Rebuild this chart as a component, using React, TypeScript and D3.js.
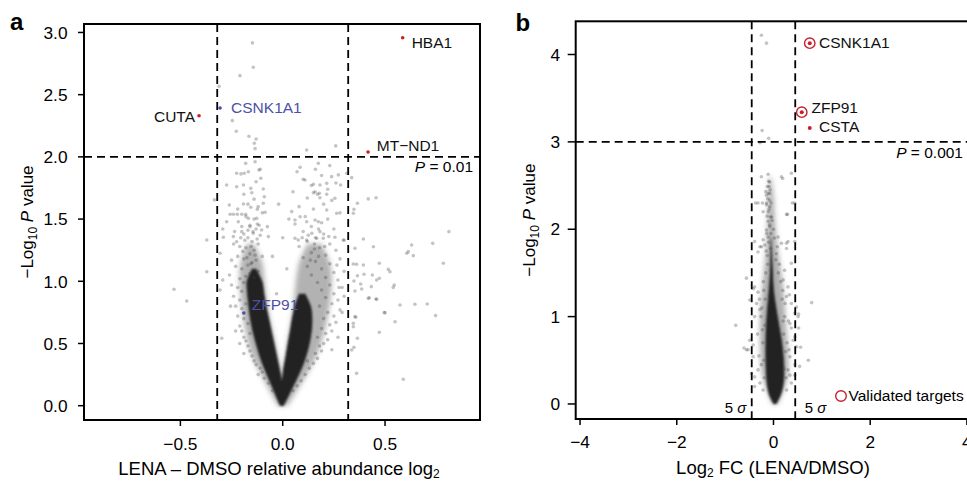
import React from "react";
import * as d3 from "d3";

const FONT = "'Liberation Sans', Arial, Helvetica, sans-serif";

// ---------------- Panel a data ----------------
const aXTicks = [-0.5, 0, 0.5];
const aYTicks = [0, 0.5, 1, 1.5, 2, 2.5, 3];
const aXDomain = [-0.971, 0.964];
const aYDomain = [-0.115, 3.068];
const aFoldCut = [-0.32, 0.32];
const aPCut = 2;
const aPText = "0.01";

// saturated (overlapping) core of the point cloud, per -log10 P level
const aCoreLY = [0, 0.1, 0.2, 0.3, 0.4, 0.5, 0.6, 0.7, 0.8, 0.9, 1.0, 1.1];
const aCoreLOut = [-0.014, -0.04, -0.066, -0.092, -0.114, -0.132, -0.148, -0.16, -0.168, -0.174, -0.176, -0.15];
const aCoreLIn = [0.002, 0.0, -0.004, -0.015, -0.028, -0.041, -0.054, -0.067, -0.08, -0.09, -0.1, -0.13];
const aCoreRY = [0, 0.1, 0.2, 0.3, 0.4, 0.5, 0.6, 0.7, 0.8, 0.9];
const aCoreRIn = [-0.01, -0.008, -0.004, 0.003, 0.014, 0.024, 0.035, 0.045, 0.058, 0.08];
const aCoreROut = [0.006, 0.036, 0.066, 0.094, 0.116, 0.132, 0.142, 0.145, 0.138, 0.11];
// lighter dense halo
const aHaloY = [0, 0.2, 0.4, 0.6, 0.8, 1.0, 1.15, 1.3];
const aHaloLOut = [-0.025, -0.09, -0.15, -0.182, -0.2, -0.212, -0.205, -0.175];
const aHaloLIn = [0.0, -0.004, -0.024, -0.05, -0.074, -0.088, -0.1, -0.14];
const aHaloRIn = [0.0, 0.0, 0.012, 0.033, 0.052, 0.064, 0.08, 0.12];
const aHaloROut = [0.025, 0.1, 0.165, 0.205, 0.228, 0.24, 0.23, 0.19];

// individual proteins (log2 ratio, -log10 P)
const aPoints: [number, number][] = [
  [0.337, 1.833], [0.365, 1.627], [0.348, 1.579], [0.418, 1.662], [0.456, 1.672], [0.812, 1.399], [0.394, 1.34],
  [0.353, 1.265], [0.443, 1.278], [0.63, 1.292], [0.733, 1.305], [0.614, 1.238], [0.638, 1.206], [0.785, 1.145],
  [0.472, 1.145], [0.345, 1.139], [0.361, 1.137], [0.394, 1.131], [0.516, 1.096], [0.524, 1.077], [0.397, 1.056],
  [0.438, 1.051], [0.365, 1.045], [0.472, 1.024], [0.348, 1.002], [0.381, 0.978], [0.54, 0.951], [0.433, 0.957],
  [0.386, 0.938], [0.353, 0.922], [0.423, 0.868], [0.456, 0.858], [0.573, 0.809], [0.646, 0.815], [0.706, 0.817],
  [0.496, 0.748], [0.747, 0.724], [0.357, 0.711], [0.345, 0.662], [0.549, 0.675], [0.472, 0.59], [0.365, 0.542],
  [0.348, 0.469], [0.589, 0.212], [0.606, 1.225], [0.459, 1.01], [0.418, 0.863], [0.459, 0.855], [0.545, 0.97],
  [0.353, 0.716], [0.345, 0.635], [0.337, 0.448], [0.361, 0.26], [0.5, 0.748],
  [-0.148, 2.916], [-0.144, 2.72], [-0.209, 2.653], [-0.311, 2.567], [-0.246, 2.291], [-0.227, 2.206],
  [-0.165, 2.166], [-0.13, 2.144], [-0.139, 2.109], [-0.135, 2.066], [0.117, 2.055], [0.259, 2.088],
  [-0.181, 1.948], [-0.135, 1.961], [-0.116, 1.895], [-0.225, 1.868], [-0.204, 1.863], [-0.188, 1.868],
  [-0.168, 1.881], [-0.107, 1.828], [-0.274, 1.774], [-0.225, 1.76], [-0.192, 1.774], [-0.156, 1.747],
  [-0.151, 1.712], [-0.095, 1.742], [-0.334, 1.654], [-0.261, 1.613], [-0.192, 1.621], [-0.156, 1.595],
  [-0.095, 1.627], [-0.124, 1.579], [-0.086, 1.555], [-0.257, 1.539], [-0.241, 1.539], [-0.222, 1.539],
  [-0.2, 1.539], [-0.181, 1.539], [-0.168, 1.506], [-0.127, 1.506], [-0.274, 1.479], [-0.293, 1.42],
  [-0.217, 1.479], [-0.2, 1.399], [-0.16, 1.439], [-0.144, 1.386], [-0.124, 1.461], [-0.103, 1.412],
  [-0.075, 1.439], [-0.07, 1.359], [-0.29, 1.354], [-0.241, 1.359], [-0.225, 1.318], [-0.371, 1.332],
  [-0.306, 1.225], [-0.371, 1.077], [-0.293, 1.01],
  [0.085, 1.916], [0.174, 1.948], [0.239, 1.841], [0.272, 1.855], [0.313, 1.868], [0.109, 1.814], [0.15, 1.78],
  [0.182, 1.774], [0.215, 1.787], [0.283, 1.774], [0.158, 1.72], [0.179, 1.707], [0.215, 1.699], [0.255, 1.667],
  [0.182, 1.672], [0.15, 1.712], [0.044, 1.56], [0.06, 1.493], [0.085, 1.519], [0.117, 1.479], [0.158, 1.493],
  [0.174, 1.479], [0.215, 1.573], [0.264, 1.547], [0.06, 1.346], [0.076, 1.332], [0.117, 1.332], [0.142, 1.386],
  [0.166, 1.346], [0.182, 1.399], [0.198, 1.346], [0.255, 1.354], [0.296, 1.332], [0.345, 1.547],
  [-0.531, 0.936], [-0.469, 0.842], [-0.298, 0.542], [-0.306, 0.93],
  [-0.05, 0.12], [-0.07, 0.18], [-0.09, 0.22], [-0.1, 0.27], [-0.11, 0.3], [-0.12, 0.25], [-0.13, 0.33],
  [-0.14, 0.36], [-0.15, 0.4], [-0.16, 0.44], [-0.17, 0.48], [-0.18, 0.52], [-0.19, 0.55], [-0.16, 0.58],
  [-0.2, 0.6], [-0.21, 0.64], [-0.17, 0.66], [-0.19, 0.7], [-0.22, 0.72], [-0.2, 0.78], [-0.23, 0.8],
  [-0.18, 0.82], [-0.21, 0.85], [-0.24, 0.88], [-0.2, 0.92], [-0.22, 0.95], [-0.25, 0.97], [-0.19, 0.99],
  [-0.21, 1.02], [-0.18, 1.04], [-0.16, 1.06], [-0.14, 1.03], [-0.12, 1.08], [-0.2, 1.1], [-0.23, 1.12],
  [-0.17, 1.13], [-0.15, 1.15], [-0.13, 1.17], [-0.19, 1.18], [-0.22, 1.2], [-0.1, 1.2], [-0.16, 1.22],
  [-0.14, 1.25], [-0.18, 1.27], [-0.21, 1.28], [-0.12, 1.3], [-0.15, 1.32], [-0.17, 1.35], [-0.24, 1.3],
  [-0.11, 1.37], [-0.19, 1.38], [-0.13, 1.42], [-0.16, 1.45], [-0.2, 1.44], [-0.14, 1.5], [-0.18, 1.52],
  [-0.1, 1.55], [-0.12, 1.6], [-0.17, 1.62], [-0.22, 1.58], [-0.14, 1.66], [-0.09, 1.68], [-0.19, 1.7],
  [-0.13, 1.8], [-0.11, 1.9],
  [-0.155, 1.14], [-0.175, 1.19], [-0.135, 1.21], [-0.195, 1.24], [-0.155, 1.28], [-0.125, 1.34],
  [-0.185, 1.33], [-0.145, 1.4], [-0.17, 1.41], [-0.205, 1.35], [-0.115, 1.45], [-0.235, 1.4],
  [-0.25, 1.17], [-0.26, 1.05], [-0.255, 0.8], [-0.23, 0.6], [-0.21, 0.5], [-0.19, 0.42],
  [0.05, 0.12], [0.07, 0.16], [0.09, 0.2], [0.11, 0.25], [0.13, 0.3], [0.15, 0.34], [0.12, 0.36], [0.17, 0.38],
  [0.16, 0.42], [0.19, 0.44], [0.18, 0.48], [0.2, 0.5], [0.22, 0.53], [0.17, 0.55], [0.21, 0.58], [0.24, 0.6],
  [0.19, 0.62], [0.23, 0.65], [0.26, 0.67], [0.2, 0.7], [0.25, 0.72], [0.22, 0.75], [0.28, 0.77], [0.18, 0.8],
  [0.24, 0.82], [0.27, 0.85], [0.21, 0.87], [0.3, 0.88], [0.25, 0.9], [0.19, 0.93], [0.29, 0.95], [0.23, 0.97],
  [0.17, 0.99], [0.27, 1.01], [0.21, 1.03], [0.14, 1.05], [0.25, 1.07], [0.3, 1.08], [0.19, 1.1], [0.12, 1.12],
  [0.23, 1.14], [0.16, 1.16], [0.28, 1.18], [0.1, 1.19], [0.21, 1.21], [0.14, 1.23], [0.26, 1.25], [0.18, 1.27],
  [0.08, 1.28], [0.23, 1.3], [0.12, 1.32], [0.3, 1.33], [0.16, 1.35], [0.2, 1.38], [0.1, 1.4], [0.25, 1.42],
  [0.14, 1.44], [0.19, 1.47], [0.06, 1.46], [0.22, 1.5], [0.11, 1.52], [0.28, 1.55], [0.15, 1.58], [0.08, 1.6],
  [0.2, 1.62], [0.24, 1.65], [0.12, 1.67], [0.17, 1.7], [0.05, 1.72], [0.22, 1.74], [0.14, 1.77], [0.26, 1.79],
  [0.1, 1.82], [0.19, 1.85], [0.07, 1.88], [0.16, 1.9], [0.23, 1.93],
  [0.135, 1.17], [0.175, 1.2], [0.155, 1.26], [0.205, 1.28], [0.125, 1.37], [0.225, 1.36], [0.175, 1.42],
  [0.095, 1.35], [0.155, 1.3], [0.265, 1.13], [0.275, 0.95], [0.29, 0.75], [0.27, 0.55], [0.24, 0.45],
  [-0.03, 0.9], [0.02, 1.1], [-0.05, 1.2], [0.0, 1.35], [0.03, 1.5], [-0.02, 1.62],
];

const aGenes = ["HBA1", "CSNK1A1", "CUTA", "MT\u2212ND1", "ZFP91"];
const aGeneX = [0.586, -0.306, -0.409, 0.417, -0.19];
const aGeneY = [2.958, 2.393, 2.331, 2.039, 0.745];
const aGeneGroup = ["changed", "target", "changed", "changed", "target"];

// ---------------- Panel b data ----------------
const bXTicks = [-4, -2, 0, 2, 4];
const bYTicks = [0, 1, 2, 3, 4];
const bXDomain = [-4.09, 4.25];
const bYDomain = [-0.172, 4.38];
const bSigmaCut = [-0.45, 0.45];
const bPCut = 3;
const bPText = "0.001";

const bCoreY = [0, 0.1, 0.2, 0.3, 0.5, 0.7, 0.9, 1.1, 1.3, 1.5, 1.7, 1.9];
const bCoreL = [0.0, -0.09, -0.13, -0.15, -0.165, -0.165, -0.155, -0.13, -0.1, -0.075, -0.065, -0.062];
const bCoreR = [0.06, 0.15, 0.2, 0.22, 0.215, 0.18, 0.12, 0.06, 0.01, -0.01, -0.028, -0.048];
const bHaloY = [0, 0.3, 0.6, 0.9, 1.2, 1.5, 1.8, 2.1, 2.4, 2.6];
const bHaloL = [-0.02, -0.22, -0.27, -0.28, -0.25, -0.2, -0.15, -0.12, -0.1, -0.09];
const bHaloR = [0.09, 0.29, 0.3, 0.26, 0.22, 0.16, 0.08, 0.03, 0.0, -0.05];

const bPoints: [number, number][] = [
  [-0.25, 4.22], [-0.145, 4.13], [-0.235, 3.13], [-0.1, 3.04], [-0.28, 2.99],
  [-0.25, 2.6], [-0.11, 2.63], [-0.08, 2.54], [-0.09, 2.49], [-0.11, 2.41], [-0.08, 2.33], [-0.145, 2.28],
  [-0.09, 2.23], [-0.06, 2.14], [0.19, 2.58], [0.37, 2.64], [-0.37, 2.3], [-0.23, 2.3], [0.39, 2.3],
  [0.27, 2.17], [-0.215, 2.2], [-0.16, 2.43], [-0.125, 2.49], [-0.077, 2.41], [-0.145, 2.39], [-0.32, 2.3],
  [-0.145, 2.3], [-0.077, 2.26], [-0.11, 2.2], [-0.04, 2.14], [-0.11, 2.09], [-0.077, 2.03], [-0.145, 1.99],
  [-0.056, 1.95], [-0.11, 1.91], [0.29, 2.17], [0.44, 2.3], [0.165, 2.6],
  [-0.215, 1.88], [-0.28, 1.8], [-0.32, 1.74], [-0.18, 1.82], [0.095, 1.91], [0.165, 1.84], [0.27, 1.78],
  [0.06, 1.72], [0.3, 1.86], [0.44, 1.86], [-0.56, 1.44], [-0.39, 1.34], [-0.32, 1.28], [-0.35, 1.15],
  [-0.28, 1.08], [-0.39, 1.0], [0.23, 1.53], [0.2, 1.42], [0.3, 1.34], [0.27, 1.23], [0.37, 1.15],
  [0.44, 1.04], [0.34, 0.92], [-0.49, 0.73], [-0.525, 0.62], [-0.42, 0.54], [-0.32, 0.39], [-0.39, 0.31],
  [-0.28, 0.24], [-0.215, 0.16], [0.34, 0.54], [0.3, 0.39], [0.37, 0.24], [0.27, 0.16], [0.44, 0.77],
  [-0.78, 0.9], [0.79, 1.16], [0.72, 0.5], [-0.61, 0.64], [-0.42, 0.675], [-0.455, 0.35], [0.475, 0.655],
  [0.51, 1.0], [0.475, 1.11], [0.37, 1.61], [-0.39, 1.86], [-0.25, 1.8], [0.27, 1.84], [-0.49, 1.19],
  [-0.42, 1.32], [0.37, 0.87], [0.54, 0.43], [0.34, 0.33], [-0.39, 0.2], [-0.56, 0.62],
  [0.52, 1.03], [0.52, 0.87], [0.56, 0.65], [0.41, 0.73], [0.44, 0.45], [0.44, 0.33],
  [-0.2, 0.5], [-0.22, 0.7], [-0.18, 0.9], [-0.24, 1.1], [-0.2, 1.3], [-0.16, 1.5], [-0.13, 1.7],
  [-0.19, 0.3], [-0.25, 0.45], [-0.23, 0.85], [-0.26, 1.0], [-0.17, 1.2], [-0.21, 1.4], [-0.12, 1.6],
  [-0.15, 1.75], [-0.1, 1.85], [0.22, 0.4], [0.25, 0.6], [0.21, 0.8], [0.23, 1.0], [0.18, 1.2], [0.15, 1.4],
  [0.12, 1.6], [0.08, 1.8], [0.26, 0.3], [0.28, 0.7], [0.2, 0.95], [0.24, 1.15], [0.19, 1.3], [0.1, 1.5],
  [0.05, 1.65], [0.02, 1.9], [0.0, 2.0], [-0.03, 2.1], [-0.05, 2.3], [-0.07, 2.45], [-0.1, 2.55],
  [-0.12, 2.35], [-0.08, 2.05], [-0.13, 2.15], [-0.06, 1.78], [-0.14, 1.95],
  [-0.3, 0.55], [-0.33, 0.8], [-0.29, 1.2], [0.32, 0.62], [0.31, 0.95], [0.33, 1.25],
];

const bGenes = ["CSNK1A1", "ZFP91", "CSTA"];
const bGeneX = [0.75, 0.585, 0.75];
const bGeneY = [4.13, 3.34, 3.16];
const bValidated = [true, true, false];

// ---------------- styles ----------------
const RED = "#c8202a";
const BLUE = "#4b52a6";
const PT_FILL = "#3c3c3c";
const PT_OPACITY = 0.3;

const aLabelStyle: Record<string, { dx: number; dy: number; anchor: string }> = {
  HBA1: { dx: 9, dy: 10, anchor: "start" },
  CSNK1A1: { dx: 11, dy: 4.7, anchor: "start" },
  CUTA: { dx: -4, dy: 6.6, anchor: "end" },
  "MT\u2212ND1": { dx: 8.7, dy: -1.3, anchor: "start" },
  ZFP91: { dx: 8, dy: -3, anchor: "start" },
};
const bLabelStyle: Record<string, { dx: number; dy: number }> = {
  CSNK1A1: { dx: 9.3, dy: 5 },
  ZFP91: { dx: 9.7, dy: 1 },
  CSTA: { dx: 9.3, dy: 4 },
};

function bandPath(
  ys: number[],
  x0s: number[],
  x1s: number[],
  xs: d3.ScaleLinear<number, number>,
  ysc: d3.ScaleLinear<number, number>
) {
  return (
    d3
      .area<number>()
      .x0((i) => xs(x0s[i]))
      .x1((i) => xs(x1s[i]))
      .y((i) => ysc(ys[i]))
      .curve(d3.curveCatmullRom)(d3.range(ys.length)) || ""
  );
}

export default function App() {
  // panel a geometry
  const aL = 84, aT = 24, aR = 480, aB = 420;
  const ax = d3.scaleLinear().domain(aXDomain).range([aL, aR]);
  const ay = d3.scaleLinear().domain(aYDomain).range([aB, aT]);
  // panel b geometry
  const bL = 575.7, bT = 21.3, bR = 979, bB = 419;
  const bx = d3.scaleLinear().domain(bXDomain).range([bL, bR]);
  const by = d3.scaleLinear().domain(bYDomain).range([bB, bT]);

  const fmtA = d3.format(".1f");
  const fmtB = d3.format("d");
  const dash = "8,5";

  return (
    <div style={{ position: "absolute", left: 0, top: 0 }}>
      <svg width={967} height={481} style={{ display: "block", fontFamily: FONT }}>
        <defs>
          <filter id="haloBlur" x="-30%" y="-10%" width="160%" height="120%">
            <feGaussianBlur stdDeviation="2.6" />
          </filter>
          <filter id="coreBlur" x="-30%" y="-10%" width="160%" height="120%">
            <feGaussianBlur stdDeviation="0.8" />
          </filter>
          <clipPath id="clipA">
            <rect x={aL} y={aT} width={aR - aL} height={aB - aT} />
          </clipPath>
          <clipPath id="clipB">
            <rect x={bL} y={bT} width={bR - bL} height={bB - bT} />
          </clipPath>
        </defs>
        <rect x={0} y={0} width={967} height={481} fill="#fff" />

        {/* ================= Panel a ================= */}
        <text x={10} y={30} fontSize={24} fontWeight="bold">a</text>
        <g clipPath="url(#clipA)">
          <g filter="url(#haloBlur)" fill="#4a4a4a" fillOpacity={0.42}>
            <path d={bandPath(aHaloY, aHaloLOut, aHaloLIn, ax, ay)} />
            <path d={bandPath(aHaloY, aHaloRIn, aHaloROut, ax, ay)} />
          </g>
          <g filter="url(#coreBlur)" fill="#222">
            <path d={bandPath(aCoreLY, aCoreLOut, aCoreLIn, ax, ay)} />
            <path d={bandPath(aCoreRY, aCoreRIn, aCoreROut, ax, ay)} />
          </g>
          {aGenes.map((g, i) => {
            const s = aLabelStyle[g];
            return (
              <text
                key={"al" + g}
                x={ax(aGeneX[i]) + s.dx}
                y={ay(aGeneY[i]) + s.dy}
                fontSize={15.5}
                textAnchor={s.anchor as any}
                fill={aGeneGroup[i] === "target" ? BLUE : "#111"}
              >
                {g}
              </text>
            );
          })}
          {aPoints.map(([x, y], i) => (
            <circle key={"ap" + i} cx={ax(x)} cy={ay(y)} r={1.8} fill={PT_FILL} fillOpacity={PT_OPACITY} />
          ))}
          {aGenes.map((g, i) => (
            <circle
              key={"ag" + g}
              cx={ax(aGeneX[i])}
              cy={ay(aGeneY[i])}
              r={1.8}
              fill={aGeneGroup[i] === "target" ? BLUE : RED}
            />
          ))}
          {aFoldCut.map((c) => (
            <line key={"af" + c} x1={ax(c)} x2={ax(c)} y1={aT} y2={aB} stroke="#000" strokeWidth={1.8} strokeDasharray={dash} />
          ))}
          <line x1={aL} x2={aR} y1={ay(aPCut)} y2={ay(aPCut)} stroke="#000" strokeWidth={1.8} strokeDasharray={dash} />
        </g>
        <text x={473} y={ay(aPCut) + 15.6} fontSize={15.5} textAnchor="end">
          <tspan fontStyle="italic">P</tspan> = {aPText}
        </text>
        {/* frame */}
        <rect x={aL} y={aT} width={aR - aL} height={aB - aT} fill="none" stroke="#000" strokeWidth={2} />
        {/* y axis */}
        {aYTicks.map((t) => (
          <g key={"ayt" + t}>
            <line x1={aL - 6} x2={aL} y1={ay(t)} y2={ay(t)} stroke="#000" strokeWidth={1.5} />
            <text x={aL - 16.5} y={ay(t)} dy="0.36em" fontSize={17.3} textAnchor="end">
              {fmtA(t)}
            </text>
          </g>
        ))}
        {/* x axis */}
        {aXTicks.map((t) => (
          <g key={"axt" + t}>
            <line x1={ax(t)} x2={ax(t)} y1={aB} y2={aB + 6} stroke="#000" strokeWidth={1.5} />
            <text x={ax(t)} y={450} fontSize={17.3} textAnchor="middle">
              {fmtA(t)}
            </text>
          </g>
        ))}
        <text x={(aL + aR) / 2 - 3} y={474.5} fontSize={18.5} textAnchor="middle">
          LENA – DMSO relative abundance log<tspan dy={3} fontSize={12}>2</tspan>
        </text>
        <text transform={`translate(33,${(aT + aB) / 2}) rotate(-90)`} fontSize={17} textAnchor="middle">
          {"\u2212Log"}<tspan dy={4} fontSize={12}>10</tspan>
          <tspan dy={-4}> </tspan>
          <tspan fontStyle="italic">P</tspan> value
        </text>

        {/* ================= Panel b ================= */}
        <text x={515.5} y={30.7} fontSize={24} fontWeight="bold">b</text>
        <g clipPath="url(#clipB)">
          <g filter="url(#haloBlur)" fill="#4a4a4a" fillOpacity={0.45}>
            <path d={bandPath(bHaloY, bHaloL, bHaloR, bx, by)} />
          </g>
          <g filter="url(#coreBlur)" fill="#222">
            <path d={bandPath(bCoreY, bCoreL, bCoreR, bx, by)} />
          </g>
          {bPoints.map(([x, y], i) => (
            <circle key={"bp" + i} cx={bx(x)} cy={by(y)} r={1.8} fill={PT_FILL} fillOpacity={PT_OPACITY} />
          ))}
          {bSigmaCut.map((c) => (
            <line key={"bs" + c} x1={bx(c)} x2={bx(c)} y1={bT} y2={bB} stroke="#000" strokeWidth={1.8} strokeDasharray={dash} />
          ))}
          <line x1={bL} x2={bR} y1={by(bPCut)} y2={by(bPCut)} stroke="#000" strokeWidth={1.8} strokeDasharray={dash} />
          {bGenes.map((g, i) => (
            <g key={"bg" + g}>
              {bValidated[i] && (
                <circle cx={bx(bGeneX[i])} cy={by(bGeneY[i])} r={5.2} fill="none" stroke={RED} strokeWidth={1.4} />
              )}
              <circle cx={bx(bGeneX[i])} cy={by(bGeneY[i])} r={2} fill={RED} />
              <text x={bx(bGeneX[i]) + bLabelStyle[g].dx} y={by(bGeneY[i]) + bLabelStyle[g].dy} fontSize={15.5} fill="#111">
                {g}
              </text>
            </g>
          ))}
        </g>
        <text x={963} y={by(bPCut) + 16.5} fontSize={15.5} textAnchor="end">
          <tspan fontStyle="italic">P</tspan> = {bPText}
        </text>
        <text x={bx(bSigmaCut[0]) - 5.5} y={413.3} fontSize={15} textAnchor="end">
          5 <tspan fontStyle="italic">σ</tspan>
        </text>
        <text x={bx(bSigmaCut[1]) + 9.5} y={413.3} fontSize={15} textAnchor="start">
          5 <tspan fontStyle="italic">σ</tspan>
        </text>
        {/* legend */}
        <circle cx={841} cy={396} r={5.3} fill="none" stroke={RED} strokeWidth={1.4} />
        <text x={848.5} y={401} fontSize={15.5}>Validated targets</text>
        {/* frame */}
        <rect x={bL} y={bT} width={bR - bL} height={bB - bT} fill="none" stroke="#000" strokeWidth={2} />
        {bYTicks.map((t) => (
          <g key={"byt" + t}>
            <line x1={bL - 8} x2={bL} y1={by(t)} y2={by(t)} stroke="#000" strokeWidth={1.5} />
            <text x={560} y={by(t)} dy="0.36em" fontSize={17.3} textAnchor="end">
              {fmtB(t)}
            </text>
          </g>
        ))}
        {bXTicks.map((t) => (
          <g key={"bxt" + t}>
            <line x1={bx(t)} x2={bx(t)} y1={bB} y2={bB + 6} stroke="#000" strokeWidth={1.5} />
            <text x={bx(t)} y={448} fontSize={17.3} textAnchor="middle">
              {fmtB(t)}
            </text>
          </g>
        ))}
        <text x={773} y={474} fontSize={18.5} textAnchor="middle">
          Log<tspan dy={3} fontSize={12}>2</tspan>
          <tspan dy={-3}> FC (LENA/DMSO)</tspan>
        </text>
        <text transform={`translate(535,${(bT + bB) / 2}) rotate(-90)`} fontSize={17} textAnchor="middle">
          {"\u2212Log"}<tspan dy={4} fontSize={12}>10</tspan>
          <tspan dy={-4}> </tspan>
          <tspan fontStyle="italic">P</tspan> value
        </text>
      </svg>
    </div>
  );
}
